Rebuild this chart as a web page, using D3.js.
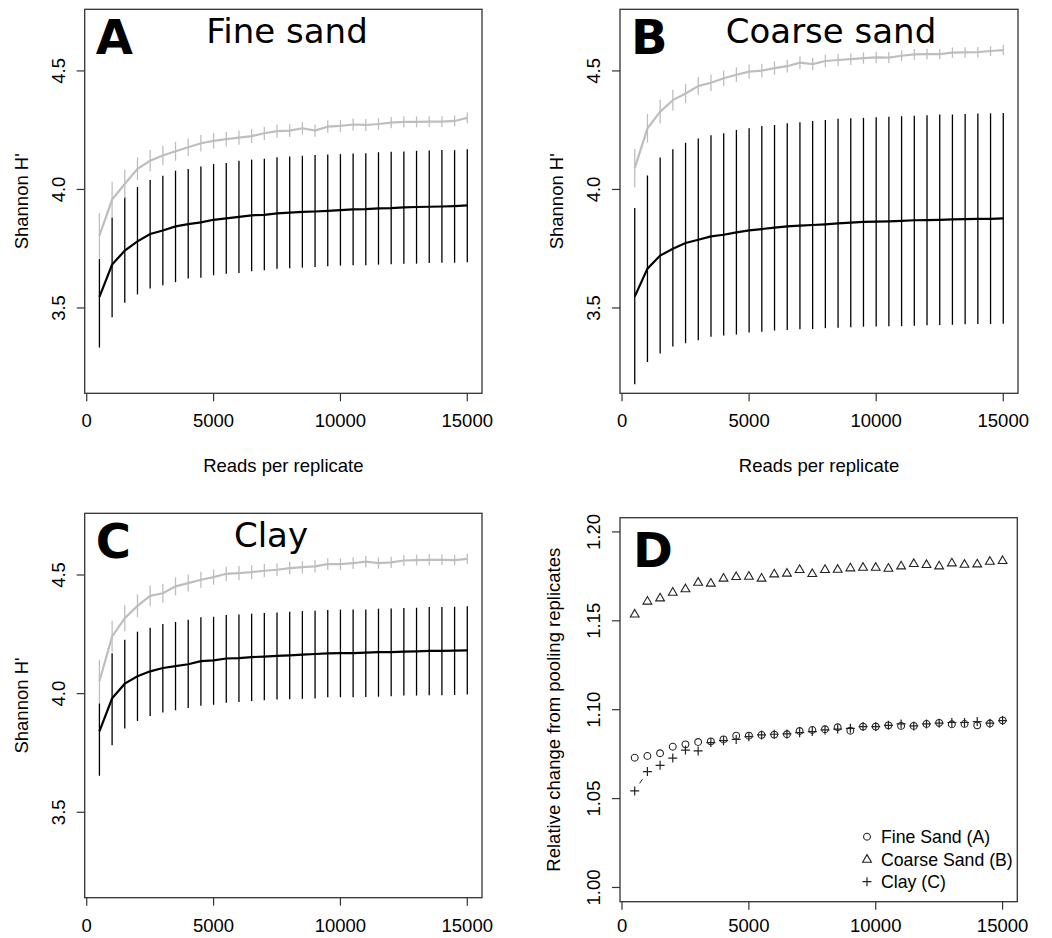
<!doctype html>
<html>
<head>
<meta charset="utf-8">
<script src="https://d3js.org/d3.v7.min.js"></script>
<style>
  body { margin: 0; background: white; }
  text { font-family: "Liberation Sans", Arial, sans-serif; }
  .big { font-family: "DejaVu Sans", sans-serif; }
</style>
</head>
<body>
<svg id="fig" width="1052" height="938"></svg>
<script>
// reads per replicate (x values shared by all panels)
var reads = [500, 1000, 1500, 2000, 2500, 3000, 3500, 4000, 4500, 5000,
             5500, 6000, 6500, 7000, 7500, 8000, 8500, 9000, 9500, 10000,
             10500, 11000, 11500, 12000, 12500, 13000, 13500, 14000, 14500, 15000]
var xTicks = [0, 5000, 10000, 15000]
var hTicks = [3.5, 4.0, 4.5]
var relTicks = [1.00, 1.05, 1.10, 1.15, 1.20]

// A: fine sand
var fineMean = [3.547, 3.683, 3.742, 3.781, 3.812, 3.827, 3.844, 3.854, 3.861, 3.872, 3.878, 3.884, 3.891, 3.893, 3.899, 3.902, 3.905, 3.907, 3.910, 3.913, 3.916, 3.917, 3.920, 3.921, 3.924, 3.926, 3.927, 3.928, 3.930, 3.933]
var fineLo = [3.333, 3.461, 3.522, 3.557, 3.582, 3.596, 3.609, 3.624, 3.628, 3.638, 3.644, 3.648, 3.655, 3.659, 3.665, 3.668, 3.670, 3.673, 3.676, 3.679, 3.680, 3.680, 3.683, 3.684, 3.687, 3.687, 3.690, 3.691, 3.691, 3.693]
var fineHi = [3.707, 3.882, 3.968, 4.010, 4.040, 4.058, 4.079, 4.086, 4.097, 4.107, 4.112, 4.121, 4.126, 4.129, 4.136, 4.139, 4.142, 4.145, 4.147, 4.149, 4.152, 4.153, 4.157, 4.159, 4.160, 4.163, 4.164, 4.166, 4.166, 4.170]
var finePooled = [3.805, 3.957, 4.023, 4.087, 4.121, 4.143, 4.161, 4.178, 4.195, 4.205, 4.212, 4.219, 4.225, 4.237, 4.246, 4.248, 4.258, 4.248, 4.265, 4.268, 4.274, 4.272, 4.276, 4.282, 4.285, 4.285, 4.286, 4.286, 4.289, 4.302]
var finePooledSd = [0.095, 0.075, 0.060, 0.048, 0.045, 0.041, 0.040, 0.037, 0.035, 0.033, 0.031, 0.030, 0.029, 0.028, 0.028, 0.027, 0.027, 0.026, 0.026, 0.025, 0.025, 0.025, 0.024, 0.024, 0.024, 0.023, 0.023, 0.023, 0.023, 0.023]

// B: coarse sand
var coarseMean = [3.548, 3.666, 3.721, 3.750, 3.774, 3.788, 3.802, 3.809, 3.819, 3.827, 3.833, 3.839, 3.844, 3.847, 3.850, 3.853, 3.857, 3.860, 3.863, 3.864, 3.865, 3.867, 3.870, 3.871, 3.872, 3.874, 3.875, 3.876, 3.876, 3.878]
var coarseLo = [3.178, 3.272, 3.308, 3.337, 3.351, 3.364, 3.379, 3.384, 3.388, 3.396, 3.400, 3.405, 3.407, 3.410, 3.411, 3.415, 3.417, 3.419, 3.421, 3.422, 3.423, 3.423, 3.425, 3.427, 3.428, 3.429, 3.431, 3.432, 3.432, 3.433]
var coarseHi = [3.922, 4.059, 4.135, 4.170, 4.197, 4.215, 4.229, 4.237, 4.251, 4.258, 4.268, 4.272, 4.279, 4.284, 4.289, 4.293, 4.298, 4.300, 4.302, 4.305, 4.307, 4.309, 4.311, 4.313, 4.316, 4.316, 4.318, 4.320, 4.321, 4.323]
var coarsePooled = [4.090, 4.258, 4.328, 4.377, 4.405, 4.436, 4.450, 4.469, 4.484, 4.497, 4.501, 4.512, 4.520, 4.535, 4.529, 4.542, 4.546, 4.550, 4.554, 4.557, 4.556, 4.564, 4.570, 4.571, 4.571, 4.577, 4.578, 4.579, 4.584, 4.588]
var coarsePooledSd = [0.081, 0.060, 0.050, 0.044, 0.040, 0.037, 0.035, 0.033, 0.031, 0.030, 0.029, 0.028, 0.027, 0.027, 0.026, 0.026, 0.025, 0.025, 0.024, 0.024, 0.024, 0.023, 0.023, 0.023, 0.022, 0.022, 0.022, 0.022, 0.021, 0.021]

// C: clay
var clayMean = [3.841, 3.980, 4.042, 4.073, 4.094, 4.108, 4.116, 4.124, 4.137, 4.140, 4.148, 4.150, 4.154, 4.156, 4.159, 4.161, 4.164, 4.167, 4.170, 4.171, 4.171, 4.173, 4.175, 4.175, 4.177, 4.178, 4.180, 4.180, 4.181, 4.182]
var clayLo = [3.654, 3.782, 3.853, 3.885, 3.906, 3.920, 3.930, 3.939, 3.949, 3.953, 3.962, 3.965, 3.969, 3.972, 3.975, 3.976, 3.978, 3.980, 3.985, 3.985, 3.985, 3.986, 3.987, 3.989, 3.992, 3.992, 3.993, 3.993, 3.994, 3.996]
var clayHi = [3.959, 4.170, 4.227, 4.261, 4.278, 4.293, 4.302, 4.311, 4.322, 4.324, 4.331, 4.334, 4.337, 4.340, 4.342, 4.345, 4.348, 4.349, 4.352, 4.354, 4.355, 4.355, 4.358, 4.359, 4.361, 4.362, 4.365, 4.365, 4.366, 4.368]
var clayPooled = [4.052, 4.241, 4.318, 4.370, 4.412, 4.423, 4.452, 4.466, 4.480, 4.491, 4.505, 4.508, 4.512, 4.518, 4.522, 4.529, 4.533, 4.536, 4.546, 4.546, 4.550, 4.556, 4.550, 4.553, 4.561, 4.563, 4.564, 4.564, 4.563, 4.568]
var clayPooledSd = [0.091, 0.066, 0.055, 0.048, 0.044, 0.040, 0.038, 0.036, 0.034, 0.032, 0.031, 0.030, 0.029, 0.028, 0.027, 0.027, 0.026, 0.026, 0.025, 0.025, 0.025, 0.024, 0.024, 0.024, 0.023, 0.023, 0.023, 0.022, 0.022, 0.022]

// D: relative change from pooling replicates
var relFine = [1.0730, 1.0740, 1.0755, 1.0792, 1.0805, 1.0818, 1.0822, 1.0833, 1.0854, 1.0854, 1.0858, 1.0860, 1.0862, 1.0880, 1.0886, 1.0890, 1.0901, 1.0882, 1.0905, 1.0905, 1.0912, 1.0909, 1.0909, 1.0920, 1.0926, 1.0918, 1.0920, 1.0912, 1.0922, 1.0940]
var relCoarse = [1.1538, 1.1611, 1.1629, 1.1661, 1.1680, 1.1717, 1.1712, 1.1740, 1.1749, 1.1751, 1.1740, 1.1764, 1.1768, 1.1789, 1.1766, 1.1789, 1.1790, 1.1798, 1.1801, 1.1801, 1.1796, 1.1809, 1.1822, 1.1817, 1.1809, 1.1826, 1.1818, 1.1820, 1.1835, 1.1839]
var relClay = [1.0543, 1.0652, 1.0687, 1.0728, 1.0773, 1.0768, 1.0815, 1.0826, 1.0833, 1.0848, 1.0858, 1.0862, 1.0864, 1.0871, 1.0877, 1.0886, 1.0891, 1.0895, 1.0905, 1.0905, 1.0912, 1.0920, 1.0909, 1.0920, 1.0924, 1.0928, 1.0928, 1.0933, 1.0924, 1.0939]
var legendLabels = ["Fine Sand (A)", "Coarse Sand (B)", "Clay (C)"]

var svg = d3.select("#fig")
svg.append("rect").attr("width", 1052).attr("height", 938).attr("fill", "white")

var GREY = "#bebebe"
var FS = 18.5

// one panel frame: box, axes, scales
function frame(box, yDomain, yTickVals, yFmt, ylab, xlab, ylabOff, tickOff) {
    var g = svg.append("g")
    var x = d3.scaleLinear().domain([-80, 15580]).range([box.l, box.r])
    var y = d3.scaleLinear().domain(yDomain).range([box.b, box.t])

    // x axis ticks + labels
    g.selectAll(".xt").data(xTicks).enter().append("line")
        .attr("x1", d => x(d)).attr("x2", d => x(d))
        .attr("y1", box.b).attr("y2", box.b + 8)
        .attr("stroke", "#333").attr("stroke-width", 1.2)
    g.selectAll(".xl").data(xTicks).enter().append("text")
        .attr("x", d => x(d)).attr("y", box.b + tickOff)
        .attr("text-anchor", "middle").attr("font-size", FS)
        .text(d => d)

    // y axis ticks + rotated labels
    g.selectAll(".yt").data(yTickVals).enter().append("line")
        .attr("x1", box.l - 8).attr("x2", box.l)
        .attr("y1", d => y(d)).attr("y2", d => y(d))
        .attr("stroke", "#333").attr("stroke-width", 1.2)
    g.selectAll(".yl").data(yTickVals).enter().append("text")
        .attr("transform", d => "translate(" + (box.l - 20) + "," + y(d) + ") rotate(-90)")
        .attr("text-anchor", "middle").attr("font-size", FS)
        .text(yFmt)

    g.append("rect")
        .attr("x", box.l).attr("y", box.t)
        .attr("width", box.r - box.l).attr("height", box.b - box.t)
        .attr("fill", "none").attr("stroke", "#333").attr("stroke-width", 1.3)

    g.append("text")
        .attr("transform", "translate(" + (box.l - ylabOff) + "," + ((box.t + box.b) / 2) + ") rotate(-90)")
        .attr("text-anchor", "middle").attr("font-size", FS)
        .text(ylab)
    if (xlab) {
        g.append("text")
            .attr("x", (box.l + box.r) / 2).attr("y", box.b + 79)
            .attr("text-anchor", "middle").attr("font-size", FS)
            .text(xlab)
    }
    return {g: g, x: x, y: y}
}

function diversityPanel(box, mean, lo, hi, pooled, pooledSd, letter, title, titleX, xlab) {
    var p = frame(box, [3.14, 4.76], hTicks, d => d.toFixed(1), "Shannon H'", xlab, 57, 34)
    var x = p.x, y = p.y, g = p.g
    var rows = reads.map((r, i) => ({r: r, m: mean[i], lo: lo[i], hi: hi[i], p: pooled[i], sd: pooledSd[i]}))

    // replicate mean with bars
    g.selectAll(".bb").data(rows).enter().append("line")
        .attr("x1", d => x(d.r)).attr("x2", d => x(d.r))
        .attr("y1", d => y(d.lo)).attr("y2", d => y(d.hi))
        .attr("stroke", "black").attr("stroke-width", 1.3)
    g.append("path").datum(rows)
        .attr("d", d3.line().x(d => x(d.r)).y(d => y(d.m)))
        .attr("fill", "none").attr("stroke", "black").attr("stroke-width", 2.2)

    // pooled replicates with bars
    g.selectAll(".gb").data(rows).enter().append("line")
        .attr("x1", d => x(d.r)).attr("x2", d => x(d.r))
        .attr("y1", d => y(d.p - d.sd)).attr("y2", d => y(d.p + d.sd))
        .attr("stroke", GREY).attr("stroke-width", 1.3)
    g.append("path").datum(rows)
        .attr("d", d3.line().x(d => x(d.r)).y(d => y(d.p)))
        .attr("fill", "none").attr("stroke", GREY).attr("stroke-width", 2.2)

    g.append("text").attr("class", "big")
        .attr("x", box.l + 11).attr("y", box.t + 45)
        .attr("font-size", 48).attr("font-weight", "bold")
        .text(letter)
    g.append("text").attr("class", "big")
        .attr("x", titleX).attr("y", box.t + 34)
        .attr("text-anchor", "middle").attr("font-size", 34)
        .text(title)
}

diversityPanel({l: 84.7, r: 482, t: 9.3, b: 393.3}, fineMean, fineLo, fineHi, finePooled, finePooledSd,
    "A", "Fine sand", 287, "Reads per replicate")
diversityPanel({l: 620, r: 1018, t: 9.3, b: 393.3}, coarseMean, coarseLo, coarseHi, coarsePooled, coarsePooledSd,
    "B", "Coarse sand", 831, "Reads per replicate")
diversityPanel({l: 84.7, r: 482, t: 513.3, b: 897.7}, clayMean, clayLo, clayHi, clayPooled, clayPooledSd,
    "C", "Clay", 271, null)

// panel D
var boxD = {l: 620, r: 1017.3, t: 517.7, b: 901.7}
var pD = frame(boxD, [0.992, 1.208], relTicks, d => d.toFixed(2), "Relative change from pooling replicates", null, 60, 30)
var xD = pD.x, yD = pD.y, gD = pD.g

var circ = function(sel) {
    sel.append("circle").attr("r", 3.4).attr("fill", "none").attr("stroke", "#222").attr("stroke-width", 1.1)
}
var tri = function(sel) {
    sel.append("path").attr("d", "M0,-4.6L4.4,3L-4.4,3Z").attr("fill", "none").attr("stroke", "#222").attr("stroke-width", 1.1)
}
var plus = function(sel) {
    sel.append("path").attr("d", "M-4.5,0H4.5M0,-4.5V4.5").attr("stroke", "#222").attr("stroke-width", 1.2)
}
var series = [[relFine, circ], [relCoarse, tri], [relClay, plus]]

series.forEach(function(s) {
    var vals = s[0]
    var pts = reads.map((r, i) => [xD(r), yD(vals[i])])
    // type "b": segments with gaps round the points
    var segs = []
    for (var i = 0; i < pts.length - 1; i++) {
        var dx = pts[i + 1][0] - pts[i][0], dy = pts[i + 1][1] - pts[i][1]
        var len = Math.sqrt(dx * dx + dy * dy), gap = 9
        if (len > 2 * gap) {
            var ux = dx / len, uy = dy / len
            segs.push([pts[i][0] + ux * gap, pts[i][1] + uy * gap, pts[i + 1][0] - ux * gap, pts[i + 1][1] - uy * gap])
        }
    }
    gD.selectAll(null).data(segs).enter().append("line")
        .attr("x1", d => d[0]).attr("y1", d => d[1]).attr("x2", d => d[2]).attr("y2", d => d[3])
        .attr("stroke", "#222").attr("stroke-width", 1)
    gD.selectAll(null).data(pts).enter().append("g")
        .attr("transform", d => "translate(" + d[0] + "," + d[1] + ")")
        .call(s[1])
})

gD.append("text").attr("class", "big")
    .attr("x", boxD.l + 13).attr("y", boxD.t + 49)
    .attr("font-size", 48).attr("font-weight", "bold")
    .text("D")

// legend
var leg = gD.append("g")
legendLabels.forEach(function(lab, i) {
    var row = leg.append("g").attr("transform", "translate(867," + (836.7 + i * 22.5) + ")")
    row.call(series[i][1])
    row.append("text").attr("x", 14).attr("y", 6.3).attr("font-size", 17.7).text(lab)
})
</script>
</body>
</html>
